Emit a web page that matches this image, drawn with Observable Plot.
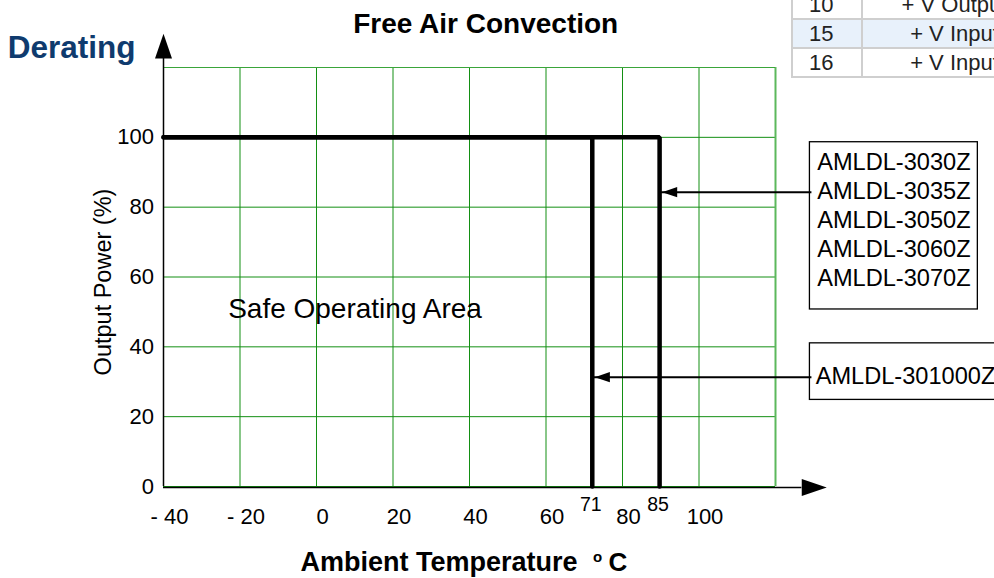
<!DOCTYPE html>
<html>
<head>
<meta charset="utf-8">
<script src="https://cdn.jsdelivr.net/npm/d3@7"></script>
<script src="https://cdn.jsdelivr.net/npm/@observablehq/plot@0.6"></script>
<style>
  html, body { margin: 0; padding: 0; background: #fff; }
  #wrap { position: relative; width: 994px; height: 578px; overflow: hidden; font-family: "Liberation Sans", Arial, sans-serif; }
  #chart { position: absolute; left: 0; top: 0; }
  #pins { position: absolute; left: 791px; top: -11px; width: 255px; table-layout: fixed; border-collapse: collapse; font-family: "Liberation Sans", Arial, sans-serif; font-size: 22px; color: #222; }
  #pins td { border: 2px solid #cfcfcf; padding: 0; height: 27px; line-height: 27px; white-space: nowrap; overflow: hidden; }
  #pins td.n { padding-left: 16px; text-align: left; }
  #pins td.f { text-align: center; }
  #pins tr.hl td { background: #e8f1fb; }
</style>
</head>
<body>
<div id="wrap">
  <div id="chart"></div>
</div>
<script>
// ---------- data ----------
const xTicks = [-40, -20, 0, 20, 40, 60, 80, 100];
const xTickLabels = ["- 40", "- 20", "0", "20", "40", "60", "80", "100"];
const yTicks = [0, 20, 40, 60, 80, 100];
const gridMax = { x: 120, y: 120 };
const axisEnd = { x: 133.4, y: 129.7 };        // arrow tips of the axes
const startTemp = -40;
const ratedPower = 100;
const groupA = ["AMLDL-3030Z", "AMLDL-3035Z", "AMLDL-3050Z", "AMLDL-3060Z", "AMLDL-3070Z"];
const groupB = ["AMLDL-301000Z"];
const cutoffLabels = ["85", "71"];               // printed labels
const cutoffPos = [89.7, 72.1];                  // where the drawn lines sit on the grid
const boxX1 = [129, 129];
const boxX2 = [172.9, 180];
const boxTop = [98.6, 41.0];
const boxBottom = [50.7, 24.8];
const calloutY = [84.3, 31.3];
const textX = [130.9, 130.5];
const textBaseline = [57.4, 29.4];
const areaLabel = { text: "Safe Operating Area", x: -23.1, y: 48.3 };
const pinNumbers = ["10", "15", "16"];
const pinFunctions = ["+ V Output", "+ V Input", "+ V Input"];

// ---------- build tables ----------
const groups = [groupA, groupB];
const curves = groups.flatMap((g, i) => [
  { t: startTemp, p: ratedPower, z: i },
  { t: cutoffPos[i], p: ratedPower, z: i },
  { t: cutoffPos[i], p: 0, z: i }
]);
const boxes = groups.map((g, i) => ({
  x1: boxX1[i], x2: boxX2[i], y1: boxBottom[i], y2: boxTop[i],
  tx: textX[i], ty: textBaseline[i], text: g.join("\n"),
  cy: calloutY[i], cut: cutoffPos[i], label: cutoffLabels[i]
}));

const arrowHead = {
  draw(context, size) {
    const s = Math.sqrt(size);
    const w = s * 0.34;
    context.moveTo(0, 0);
    context.lineTo(-w, s);
    context.lineTo(w, s);
    context.closePath();
  }
};

const green = "#138f13";
const font = "Liberation Sans, Arial, sans-serif";

const chart = Plot.plot({
  width: 994,
  height: 578,
  marginLeft: 163,
  marginRight: 219,
  marginTop: 67,
  marginBottom: 92,
  x: { domain: [startTemp, gridMax.x], label: null },
  y: { domain: [0, gridMax.y], label: null },
  style: { fontFamily: font, background: "transparent", overflow: "visible", color: "black" },
  marks: [
    // grid
    Plot.ruleX(xTicks, { y1: 0, y2: gridMax.y, stroke: green, strokeWidth: 1 }),
    Plot.ruleY(yTicks, { x1: startTemp, x2: gridMax.x, stroke: green, strokeWidth: 1 }),
    Plot.ruleX([gridMax.x], { y1: 0, y2: gridMax.y, stroke: "#5cb85c", strokeWidth: 2 }),
    Plot.ruleY([gridMax.y], { x1: startTemp, x2: gridMax.x, stroke: "#3aa53a", strokeWidth: 1 }),
    // axes with arrow heads
    Plot.ruleX([startTemp], { y1: 0, y2: axisEnd.y - 7, stroke: "black", strokeWidth: 1.5 }),
    Plot.ruleY([0], { x1: startTemp, x2: axisEnd.x - 6.5, stroke: "black", strokeWidth: 1.5, dy: 1 }),
    Plot.dot([{ x: startTemp, y: axisEnd.y }], { x: "x", y: "y", symbol: arrowHead, r: 14.1, fill: "black", stroke: "none" }),
    Plot.dot([{ x: axisEnd.x, y: 0 }], { x: "x", y: "y", symbol: arrowHead, r: 14.1, rotate: 90, fill: "black", stroke: "none", dy: 1 }),
    Plot.axisY(yTicks, { tickSize: 0, tickPadding: 9.5, fontSize: 22, label: null }),
    Plot.axisX(xTicks, { tickSize: 0, tickPadding: 22.3, fontSize: 22, dx: 6, label: null,
      tickFormat: (d) => xTickLabels[xTicks.indexOf(d)] }),
    // derating curves
    Plot.line(curves, { x: "t", y: "p", z: "z", stroke: "black", strokeWidth: 4.5,
      strokeLinecap: "round", strokeLinejoin: "miter", curve: "linear" }),
    Plot.text(boxes, { x: "cut", y: 0, text: "label", fontSize: 19.5, dy: 24, dx: -1.5, lineAnchor: "bottom" }),
    // callout boxes
    Plot.rect(boxes, { x1: "x1", x2: "x2", y1: "y1", y2: "y2", fill: "white", stroke: "black", strokeWidth: 1.3 }),
    Plot.text(boxes, { x: "tx", y: "ty", text: "text", fontSize: 23.6, textAnchor: "start", lineAnchor: "bottom", lineHeight: 1.232 }),
    Plot.ruleY(boxes, { y: "cy", x1: "x1", x2: "cut", stroke: "black", strokeWidth: 2, dx: 2 }),
    Plot.dot(boxes, { x: "cut", y: "cy", symbol: arrowHead, r: 8.5, rotate: -90, fill: "black", stroke: "none", dx: 2.5 }),
    // annotation
    Plot.text([areaLabel], { x: "x", y: "y", text: "text", fontSize: 28, textAnchor: "start", lineAnchor: "bottom" }),
    // titles & axis labels
    Plot.text(["Derating"], { frameAnchor: "top-left", dx: -155.7, dy: -9.7, textAnchor: "start", lineAnchor: "bottom",
      fontSize: 31.5, fontWeight: "bold", fill: "#0f3b6e" }),
    Plot.text(["Free Air Convection"], { frameAnchor: "top-left", dx: 189.7, dy: -35, textAnchor: "start", lineAnchor: "bottom",
      fontSize: 28, fontWeight: "bold" }),
    Plot.text(["Output Power (%)"], { frameAnchor: "left", dx: -53, dy: 5, rotate: -90, textAnchor: "middle", lineAnchor: "bottom",
      fontSize: 23.5 }),
    Plot.text(["Ambient Temperature"], { frameAnchor: "bottom-left", dx: 137, dy: 84, textAnchor: "start", lineAnchor: "bottom",
      fontSize: 27, fontWeight: "bold" }),
    Plot.text(["o"], { frameAnchor: "bottom-left", dx: 429.5, dy: 75, textAnchor: "start", lineAnchor: "bottom",
      fontSize: 15, fontWeight: "bold" }),
    Plot.text(["C"], { frameAnchor: "bottom-left", dx: 445, dy: 84, textAnchor: "start", lineAnchor: "bottom",
      fontSize: 26, fontWeight: "bold" })
  ]
});
document.getElementById("chart").appendChild(chart);

// partial pin table visible at the top-right of the source page
const table = document.createElement("table");
table.id = "pins";
const colgroup = document.createElement("colgroup");
[70, 185].forEach((w) => { const c = document.createElement("col"); c.style.width = w + "px"; colgroup.appendChild(c); });
table.appendChild(colgroup);
pinNumbers.forEach((n, i) => {
  const tr = document.createElement("tr");
  if (i === 1) tr.className = "hl";
  const a = document.createElement("td"); a.className = "n"; a.textContent = n;
  const b = document.createElement("td"); b.className = "f"; b.textContent = pinFunctions[i];
  tr.appendChild(a); tr.appendChild(b);
  table.appendChild(tr);
});
document.getElementById("wrap").appendChild(table);
</script>
</body>
</html>
